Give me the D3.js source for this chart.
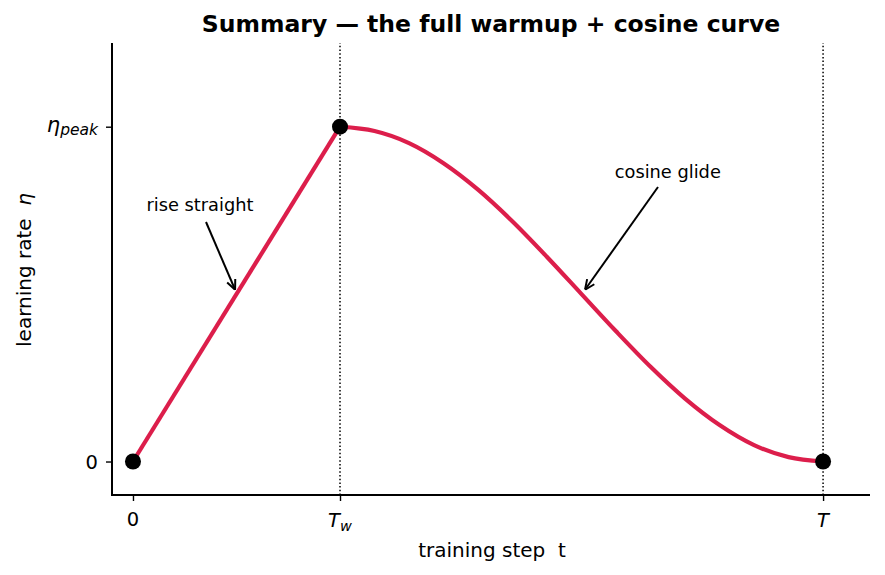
<!DOCTYPE html>
<html>
<head>
<meta charset="UTF-8">
<title>warmup + cosine</title>
<script src="https://cdn.jsdelivr.net/npm/d3@7"></script>
<style>
  body { margin: 0; background: #fff; }
  text { font-family: "DejaVu Sans", sans-serif; white-space: pre; }
</style>
</head>
<body>
<svg id="mainsvg" width="885" height="575"></svg>
<script>
// data (step as fraction of T, lr as fraction of peak)
const warmupSteps = [0, 0.3];
const warmupLr = [0, 1];
const cosineSteps = [0.3, 0.35, 0.4, 0.45, 0.5, 0.55, 0.6, 0.65, 0.7, 0.75, 0.8, 0.85, 0.9, 0.95, 1.0];
const cosineLr = [1.0, 0.987, 0.951, 0.891, 0.812, 0.717, 0.611, 0.5, 0.389, 0.283, 0.188, 0.109, 0.049, 0.013, 0.0];
const markerSteps = [0, 0.3, 1];
const markerLr = [0, 1, 0];
const xTicks = [0, 0.3, 1];
const yTicks = [0, 1];
const vlines = [0.3, 1];

const svg = d3.select('#mainsvg');
const xScale = d3.scaleLinear().domain([-0.0304, 1.068]).range([112, 870]);
const yScale = d3.scaleLinear().domain([-0.1, 1.25]).range([495, 43]);
const lineColor = '#dc1e4b';

// dotted guide lines
svg.selectAll('.vline')
    .data(vlines)
    .join('line')
    .attr('class', 'vline')
    .attr('x1', d => xScale(d)).attr('x2', d => xScale(d))
    .attr('y1', yScale.range()[0]).attr('y2', yScale.range()[1])
    .attr('stroke', '#000')
    .attr('stroke-width', 1.5)
    .attr('stroke-dasharray', '1.5,2.2');

// the curve: warmup + cosine
const pts = warmupSteps.map((s, i) => [s, warmupLr[i]]);
const cosPts = cosineSteps.map((s, i) => [s, cosineLr[i]]);
const line = d3.line().x(d => xScale(d[0])).y(d => yScale(d[1]));
svg.append('path')
    .attr('d', line(pts))
    .attr('fill', 'none').attr('stroke', lineColor).attr('stroke-width', 4.2);
svg.append('path')
    .attr('d', line.curve(d3.curveMonotoneX)(cosPts))
    .attr('fill', 'none').attr('stroke', lineColor).attr('stroke-width', 4.2);

// markers
svg.selectAll('.dot')
    .data(markerSteps)
    .join('circle')
    .attr('class', 'dot')
    .attr('cx', d => xScale(d))
    .attr('cy', (d, i) => yScale(markerLr[i]))
    .attr('r', 8)
    .attr('fill', '#000');

// axes
const xAxis = d3.axisBottom(xScale).tickValues(xTicks).tickSize(6).tickFormat(() => '');
const yAxis = d3.axisLeft(yScale).tickValues(yTicks).tickSize(6).tickFormat(() => '');
const gx = svg.append('g').attr('transform', 'translate(0,495)').call(xAxis);
const gy = svg.append('g').attr('transform', 'translate(112,0)').call(yAxis);
gx.select('.domain').attr('stroke', '#000').attr('stroke-width', 2).attr('d', 'M111,0H870');
gy.select('.domain').attr('stroke', '#000').attr('stroke-width', 2).attr('d', 'M0,496V43');
svg.selectAll('.tick line').attr('stroke', '#000').attr('stroke-width', 1.4);

// tick labels
const xLab = svg.append('g').attr('font-size', 19.5).attr('text-anchor', 'middle');
xLab.append('text').attr('x', xScale(0)).attr('y', 526).text('0');
const tw = xLab.append('text').attr('x', xScale(0.3)).attr('y', 527).attr('font-style', 'italic');
tw.append('tspan').text('T');
tw.append('tspan').attr('font-size', 14.5).attr('dy', 4).text('w');
xLab.append('text').attr('x', xScale(1)).attr('y', 527).attr('font-style', 'italic').text('T');

const yLab = svg.append('g').attr('font-size', 19.5).attr('text-anchor', 'end');
yLab.append('text').attr('x', 98).attr('y', yScale(0) + 7).text('0');
const ep = yLab.append('text').attr('x', 98).attr('y', yScale(1) + 5).attr('font-style', 'italic');
ep.append('tspan').attr('font-size', 21).text('η');
ep.append('tspan').attr('font-size', 15.5).attr('dy', 3).text('peak');

// axis titles
svg.append('text').attr('x', 492).attr('y', 557).attr('text-anchor', 'middle')
    .attr('font-size', 20).text('training step  t');
const yt = svg.append('text').attr('transform', 'translate(31,270) rotate(-90)')
    .attr('text-anchor', 'middle').attr('font-size', 20);
yt.append('tspan').text('learning rate  ');
yt.append('tspan').attr('font-style', 'italic').text('η');

// title
svg.append('text').attr('x', 491).attr('y', 32).attr('text-anchor', 'middle')
    .attr('font-size', 23.5).attr('font-weight', 'bold').text('Summary — the full warmup + cosine curve');

// annotations
svg.append('defs').append('marker')
    .attr('id', 'arrow').attr('viewBox', '0 0 10 10').attr('refX', 10).attr('refY', 5)
    .attr('markerWidth', 11).attr('markerHeight', 11).attr('markerUnits', 'userSpaceOnUse')
    .attr('orient', 'auto')
    .append('path').attr('d', 'M1,1L10,5L1,9').attr('fill', 'none').attr('stroke', '#000').attr('stroke-width', 1.8);

const notes = [
    {text: 'rise straight', tx: 0.097, ty: 0.767, ax: 0.148, ay: 0.513, sx: 206, sy: 222},
    {text: 'cosine glide', tx: 0.775, ty: 0.866, ax: 0.655, ay: 0.513, sx: 658, sy: 187}
];
notes.forEach(n => {
    svg.append('text').attr('x', xScale(n.tx)).attr('y', yScale(n.ty) + 6)
        .attr('text-anchor', 'middle').attr('font-size', 17.8).text(n.text);
    svg.append('line')
        .attr('x1', n.sx).attr('y1', n.sy)
        .attr('x2', xScale(n.ax)).attr('y2', yScale(n.ay))
        .attr('stroke', '#000').attr('stroke-width', 2)
        .attr('marker-end', 'url(#arrow)');
});
</script>
</body>
</html>
